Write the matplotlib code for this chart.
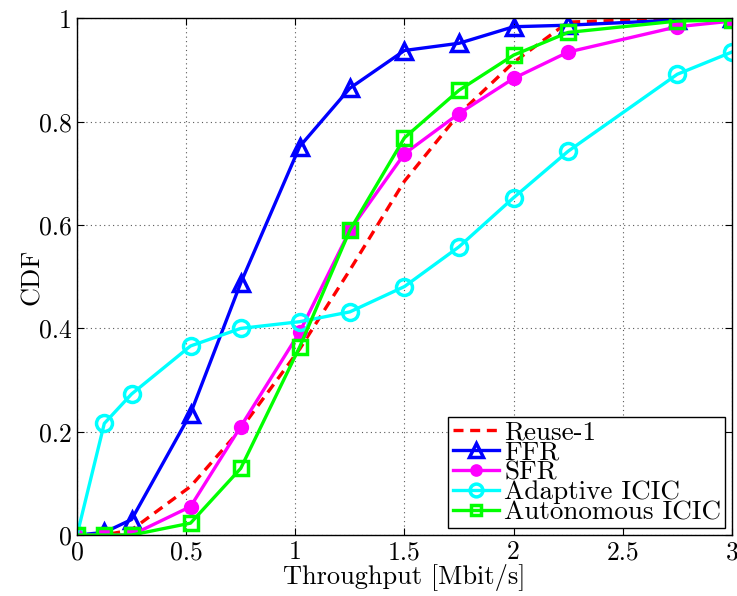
import matplotlib
matplotlib.use("Agg")
import matplotlib.pyplot as plt

plt.rcParams['font.family'] = 'serif'
plt.rcParams['font.serif'] = ['cmr10', 'DejaVu Serif']
plt.rcParams['mathtext.fontset'] = 'cm'
plt.rcParams['axes.unicode_minus'] = False
plt.rcParams['axes.formatter.use_mathtext'] = True

x = [0, 0.125, 0.25, 0.52, 0.75, 1.02, 1.25, 1.5, 1.75, 2.0, 2.25, 2.75, 3.0]
reuse1 = [0, 0.0, 0.01, 0.094, 0.205, 0.36, 0.513, 0.685, 0.815, 0.915, 0.993, 1.0, 1.0]
ffr = [0, 0.005, 0.03, 0.235, 0.488, 0.752, 0.865, 0.938, 0.952, 0.984, 0.987, 0.997, 1.0]
sfr = [0, 0.0, 0.0, 0.055, 0.21, 0.393, 0.59, 0.738, 0.816, 0.884, 0.935, 0.984, 0.995]
adaptive = [0, 0.216, 0.273, 0.366, 0.40, 0.413, 0.432, 0.481, 0.558, 0.653, 0.743, 0.892, 0.935]
autonomous = [0, 0.0, 0.0, 0.023, 0.129, 0.364, 0.59, 0.769, 0.861, 0.929, 0.973, 0.995, 0.997]
labels = ['Reuse-1', 'FFR', 'SFR', 'Adaptive ICIC', 'Autonomous ICIC']

fig = plt.figure(figsize=(7.37, 5.96), dpi=100)
ax = fig.add_axes([0.1045, 0.1023, 0.8885, 0.8667])

lw = 2.4
ax.plot(x, reuse1, color='red', linestyle=(0, (3, 2)), lw=lw, label=labels[0])
ax.plot(x, ffr, color='blue', lw=lw, marker='^', ms=12, mfc='none', mew=2.5, label=labels[1])
ax.plot(x, sfr, color='magenta', lw=lw, marker='o', ms=9.5, mfc='magenta', mew=1.5, label=labels[2])
ax.plot(x, adaptive, color='cyan', lw=lw, marker='o', ms=11.5, mfc='none', mew=2.5, label=labels[3])
ax.plot(x, autonomous, color='lime', lw=lw, marker='s', ms=9.5, mfc='none', mew=2.5, label=labels[4])

ax.set_xlim(0, 3)
ax.set_ylim(0, 1)
ax.set_xticks([0, 0.5, 1, 1.5, 2, 2.5, 3])
ax.set_xticklabels(['0', '0.5', '1', '1.5', '2', '2.5', '3'])
ax.set_yticks([0, 0.2, 0.4, 0.6, 0.8, 1])
ax.set_yticklabels(['0', '0.2', '0.4', '0.6', '0.8', '1'])
ax.tick_params(direction='in', top=True, right=True, labelsize=18.5, length=5, width=0.8, pad=4)
ax.grid(True, linestyle=(0, (1, 3)), color='0.35', linewidth=0.8)
for s in ax.spines.values():
    s.set_linewidth(1.0)

ax.set_xlabel('Throughput [Mbit/s]', fontsize=19, labelpad=0)
ax.set_ylabel('CDF', fontsize=19)
ax.yaxis.set_label_coords(-0.05, 0.5)

leg = ax.legend(loc='lower right', fontsize=19.5, frameon=True, fancybox=False,
                edgecolor='black', framealpha=1, handlelength=1.7, handletextpad=0.2,
                labelspacing=-0.15, borderpad=0.15, borderaxespad=0.25, markerscale=0.8)
leg.get_frame().set_linewidth(1.0)

fig.savefig('out.png', dpi=100)
